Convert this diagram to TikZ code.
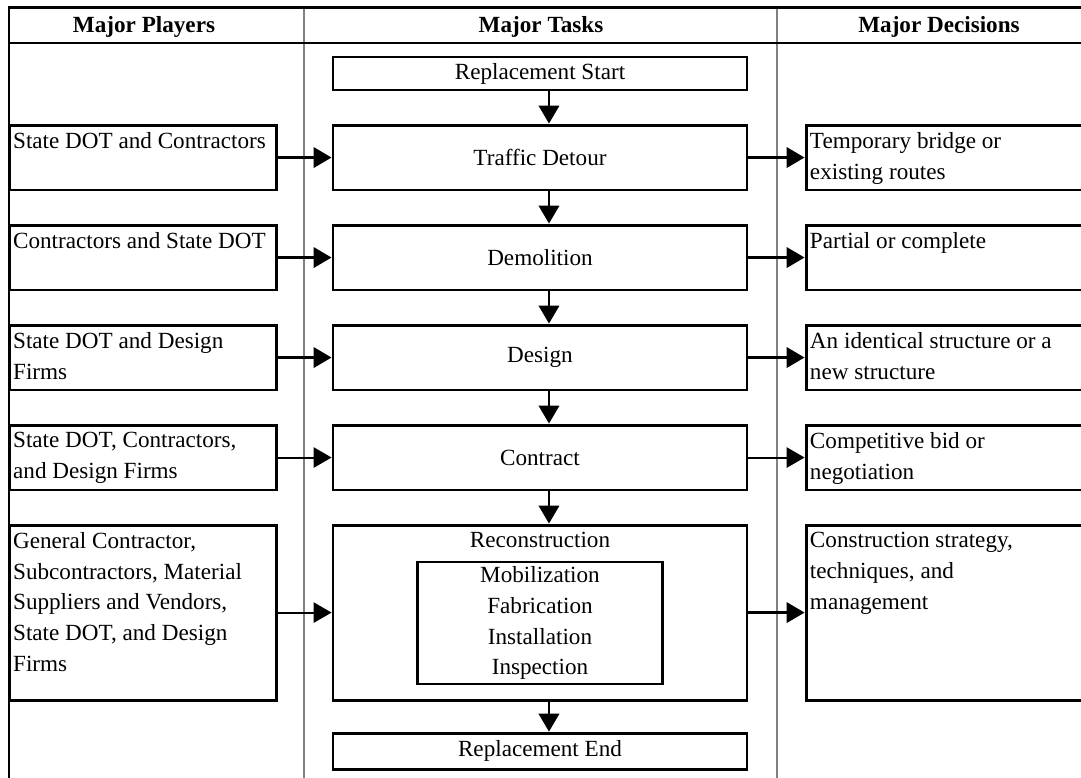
\documentclass[tikz,border=0pt]{standalone}
\usepackage{fontspec}
\setmainfont{Liberation Serif}
\usetikzlibrary{positioning,arrows.meta}

\begin{document}
\begin{tikzpicture}[x=0.445pt,y=-0.445pt,node distance=14.3pt and 24pt,
font=\fontsize{10.3}{13.7}\selectfont,
task/.style={
% The shape:
rectangle,
draw=black,
line width=1.3pt,
minimum width=184.2pt,
minimum height=28.9pt,
inner sep=0pt,
align=center
},
player/.style={
rectangle,
draw=black,
line width=1.3pt,
minimum width=118.8pt,
minimum height=28.9pt,
inner sep=0pt
},
choice/.style={
player,
minimum width=133.5pt
},
corner/.style={
anchor=north west,
inner sep=2.2pt,
yshift=-1.5pt,
align=left
},
stages/.style={
rectangle,
draw=black,
line width=1pt,
minimum width=109pt,
minimum height=54.3pt,
inner sep=1.5pt,
align=center
},
header/.style={
anchor=base,
font=\fontsize{10.3}{13.7}\selectfont\bfseries
},
flow/.style={-{Triangle[length=8pt,width=9pt]},line width=1.3pt},
thin flow/.style={flow,line width=0.9pt}
]
\useasboundingbox (0,0) rectangle (1081,778);
\clip (0,0) rectangle (1081,778);
% Frame and columns:
\draw[gray,line width=0.9pt] (304,7) -- (304,778) (777,7) -- (777,778);
\draw[line width=0.8pt] (9,43) -- (1081,43);
\draw[line width=1.3pt] (9,778) |- (1081,7.5);
\node[header] (players) at (144,33) {Major Players};
\node[header] (tasks) at (541,33) {Major Tasks};
\node[header] (decisions) at (939,33) {Major Decisions};
% Middle column:
\node (start) [task,minimum height=14.7pt] at (540,73.5) {Replacement Start};
\node (detour) [task,below=of start] {Traffic Detour};
\node (demolition) [task,below=of detour] {Demolition};
\node (design) [task,below=of demolition] {Design};
\node (contract) [task,below=of design] {Contract};
\node (recon) [task,below=of contract,minimum height=77.9pt,
  label={[anchor=north,inner sep=2.2pt,yshift=-1.5pt]north:Reconstruction}] {};
\node (steps) [stages] at ([yshift=-4.7pt]recon.center) {Mobilization\\Fabrication\\Installation\\Inspection};
\node (finish) [task,below=13.4pt of recon,minimum height=16pt] {Replacement End};
% Left column:
\node (dotcontr) [player,left=of detour,label={[corner]north west:State DOT and Contractors}] {};
\node (contrdot) [player,left=of demolition,label={[corner]north west:Contractors and State DOT}] {};
\node (dotdesign) [player,left=of design,label={[corner]north west:State DOT and Design\\Firms}] {};
\node (alldot) [player,left=of contract,label={[corner]north west:{State DOT, Contractors,\\and Design Firms}}] {};
\node (general) [player,left=of recon,minimum height=77.9pt,
  label={[corner]north west:{General Contractor,\\Subcontractors, Material\\Suppliers and Vendors,\\State DOT, and Design\\Firms}}] {};
% Right column:
\node (bridge) [choice,right=25pt of detour,label={[corner]north west:Temporary bridge or\\existing routes}] {};
\node (partial) [choice,right=25pt of demolition,label={[corner]north west:Partial or complete}] {};
\node (identical) [choice,right=25pt of design,label={[corner]north west:An identical structure or a\\new structure}] {};
\node (bid) [choice,right=25pt of contract,label={[corner]north west:Competitive bid or\\negotiation}] {};
\node (strategy) [choice,right=25pt of recon,minimum height=77.9pt,
  label={[corner]north west:{Construction strategy,\\techniques, and\\management}}] {};
% Task flow:
\path ([xshift=4pt]start.south) edge[flow] ([xshift=4pt]detour.north)
  ([xshift=4pt]detour.south) edge[flow] ([xshift=4pt]demolition.north)
  ([xshift=4pt]demolition.south) edge[flow] ([xshift=4pt]design.north)
  ([xshift=4pt]design.south) edge[flow] ([xshift=4pt]contract.north)
  ([xshift=4pt]contract.south) edge[flow] ([xshift=4pt]recon.north)
  ([xshift=4pt]recon.south) edge[flow] ([xshift=4pt]finish.north);
\path (dotcontr) edge[flow] (detour) (contrdot) edge[flow] (demolition) (dotdesign) edge[flow] (design);
\path (alldot) edge[thin flow] (contract) (general) edge[thin flow] (recon);
\path (detour) edge[flow] (bridge) (demolition) edge[flow] (partial) (design) edge[flow] (identical);
\path (contract) edge[thin flow] (bid) (recon) edge[flow] (strategy);
\end{tikzpicture}
\end{document}
